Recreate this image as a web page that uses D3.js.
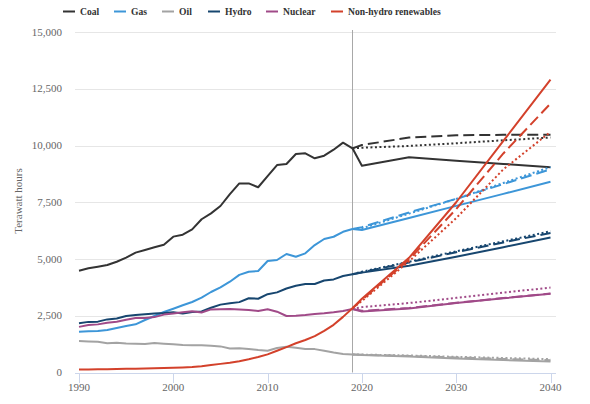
<!DOCTYPE html>
<html>
<head>
<meta charset="utf-8">
<script src="https://cdn.jsdelivr.net/npm/d3@7"></script>
<style>
  html, body { margin: 0; padding: 0; background: #fff; }
  svg { display: block; }
  svg text { font-family: "Liberation Serif", "Times New Roman", "DejaVu Serif", serif; }
</style>
</head>
<body>
<svg id="chart" width="590" height="404"></svg>
<script>
// ---------- DATA ----------
const years = [1990,1991,1992,1993,1994,1995,1996,1997,1998,1999,2000,2001,2002,2003,2004,2005,2006,2007,2008,2009,2010,2011,2012,2013,2014,2015,2016,2017,2018,2019];
const projYears = [2019, 2020, 2025, 2030, 2035, 2040];

const coal     = [4485,4590,4660,4735,4880,5060,5280,5400,5515,5630,5985,6070,6305,6750,7010,7335,7860,8330,8330,8160,8650,9140,9185,9625,9655,9435,9550,9815,10125,9875];
const gas      = [1797,1813,1828,1872,1960,2048,2122,2313,2489,2665,2811,2960,3106,3296,3546,3752,4000,4300,4440,4470,4910,4955,5220,5100,5250,5615,5880,5980,6200,6320];
const oil      = [1390,1370,1350,1290,1310,1280,1270,1260,1300,1270,1240,1210,1200,1200,1180,1150,1060,1070,1040,990,960,1080,1130,1090,1040,1030,960,880,820,790];
const hydro    = [2170,2230,2240,2340,2380,2490,2530,2570,2600,2620,2650,2600,2670,2690,2850,2990,3050,3100,3270,3250,3450,3530,3700,3820,3900,3900,4050,4100,4250,4330];
const nuclear  = [2010,2090,2120,2190,2240,2320,2400,2400,2440,2550,2600,2650,2700,2640,2780,2790,2800,2780,2750,2710,2790,2680,2490,2500,2530,2580,2610,2650,2710,2800];
const renew    = [130,135,140,145,150,160,165,175,185,195,210,225,245,280,330,380,430,500,580,680,800,960,1120,1290,1430,1600,1830,2100,2450,2830];

const coalSolid     = [9875, 9110, 9480, 9330, 9190, 9040];
const coalDashed    = [9875, 10020, 10350, 10450, 10470, 10470];
const coalDotted    = [9875, 9900, 9980, 10100, 10230, 10350];
const gasSolid      = [6320, 6280, 6810, 7340, 7870, 8400];
const gasDashed     = [6320, 6400, 7050, 7650, 8300, 8950];
const gasDotted     = [6320, 6350, 7000, 7650, 8350, 9050];
const oilSolid      = [790, 770, 700, 620, 550, 480];
const oilDashed     = [790, 780, 730, 660, 600, 540];
const oilDotted     = [790, 790, 750, 690, 640, 590];
const hydroSolid    = [4330, 4400, 4700, 5100, 5520, 5950];
const hydroDashed   = [4330, 4420, 4850, 5300, 5730, 6150];
const hydroDotted   = [4330, 4440, 4880, 5340, 5780, 6220];
const nuclearSolid  = [2800, 2690, 2820, 3060, 3270, 3470];
const nuclearDashed = [2800, 2720, 2840, 3070, 3280, 3480];
const nuclearDotted = [2800, 2880, 3060, 3290, 3520, 3740];
const renewSolid    = [2830, 3250, 5050, 7500, 10200, 12900];
const renewDashed   = [2830, 3200, 4980, 7200, 9650, 11850];
const renewDotted   = [2830, 3150, 4900, 6800, 8950, 10600];

const seriesNames = ["Coal", "Gas", "Oil", "Hydro", "Nuclear", "Non-hydro renewables"];
const yTicks = [0, 2500, 5000, 7500, 10000, 12500, 15000];
const xTicks = [1990, 2000, 2010, 2020, 2030, 2040];
const markerYear = 2019;

// ---------- STYLE ----------
const colors = ["#333333", "#3d96d8", "#a3a3a3", "#17466f", "#a04a88", "#d3412b"];
const history = [coal, gas, oil, hydro, nuclear, renew];
const projections = [
  [coalSolid, coalDashed, coalDotted],
  [gasSolid, gasDashed, gasDotted],
  [oilSolid, oilDashed, oilDotted],
  [hydroSolid, hydroDashed, hydroDotted],
  [nuclearSolid, nuclearDashed, nuclearDotted],
  [renewSolid, renewDashed, renewDotted]
];
const dashes = [null, "11,5", "2,2.5"];

const svg = d3.select("#chart");
const plotLeft = 75, plotRight = 556, plotTop = 32, plotBottom = 372.5;

const x = d3.scaleLinear().domain([1990, 2040]).range([79, 550.5]);
const y = d3.scaleLinear().domain([0, 15000]).range([plotBottom, plotTop]);

// gridlines
svg.append("g").selectAll("line").data(yTicks.filter(d => d > 0)).join("line")
  .attr("x1", plotLeft).attr("x2", plotRight)
  .attr("y1", d => Math.round(y(d)) + 0.5).attr("y2", d => Math.round(y(d)) + 0.5)
  .attr("stroke", "#e6e6e6").attr("stroke-width", 1);

// y labels
svg.append("g").selectAll("text").data(yTicks).join("text")
  .attr("x", 62).attr("y", d => y(d)).attr("dy", "0.33em")
  .attr("text-anchor", "end").attr("font-size", 11).attr("fill", "#666666")
  .text(d => d3.format(",")(d));

// y title
svg.append("text")
  .attr("transform", "translate(22,201) rotate(-90)")
  .attr("text-anchor", "middle").attr("font-size", 11).attr("fill", "#666666")
  .text("Terawatt hours");

// x axis line
svg.append("line")
  .attr("x1", plotLeft).attr("x2", plotRight)
  .attr("y1", Math.round(plotBottom) + 0.5).attr("y2", Math.round(plotBottom) + 0.5)
  .attr("stroke", "#ccd6eb").attr("stroke-width", 1);

// x ticks
svg.append("g").selectAll("line").data(xTicks).join("line")
  .attr("x1", d => Math.round(x(d)) + 0.5).attr("x2", d => Math.round(x(d)) + 0.5)
  .attr("y1", Math.round(plotBottom)).attr("y2", Math.round(plotBottom) + 10)
  .attr("stroke", "#ccd6eb").attr("stroke-width", 1);

svg.append("g").selectAll("text").data(xTicks).join("text")
  .attr("x", d => x(d)).attr("y", 391)
  .attr("text-anchor", "middle").attr("font-size", 11).attr("fill", "#666666")
  .text(d => d);

// vertical marker line
svg.append("line")
  .attr("x1", Math.round(x(markerYear)) + 0.5).attr("x2", Math.round(x(markerYear)) + 0.5)
  .attr("y1", plotTop - 2).attr("y2", plotBottom)
  .attr("stroke", "#a8a8a8").attr("stroke-width", 1);

// lines
const line = d3.line().x(d => x(d[0])).y(d => y(d[1]));
const linesG = svg.append("g").attr("fill", "none").attr("stroke-linejoin", "round");

history.forEach((vals, i) => {
  projections[i].forEach((pv, j) => {
    linesG.append("path")
      .datum(projYears.map((yr, k) => [yr, pv[k]]))
      .attr("d", line)
      .attr("stroke", colors[i]).attr("stroke-width", 2)
      .attr("stroke-dasharray", dashes[j]);
  });
  linesG.append("path")
    .datum(years.map((yr, k) => [yr, vals[k]]))
    .attr("d", line)
    .attr("stroke", colors[i]).attr("stroke-width", 2);
});

// legend
const legendX = [63, 114, 162, 208, 266, 331];
const lg = svg.append("g");
seriesNames.forEach((name, i) => {
  const g = lg.append("g").attr("transform", `translate(${legendX[i]},0)`);
  g.append("line").attr("x1", 0).attr("x2", 12).attr("y1", 11.5).attr("y2", 11.5)
    .attr("stroke", colors[i]).attr("stroke-width", 2);
  g.append("text").attr("x", 17).attr("y", 15)
    .attr("font-size", 9.6).attr("font-weight", "bold").attr("fill", "#333333")
    .text(name);
});
</script>
</body>
</html>
